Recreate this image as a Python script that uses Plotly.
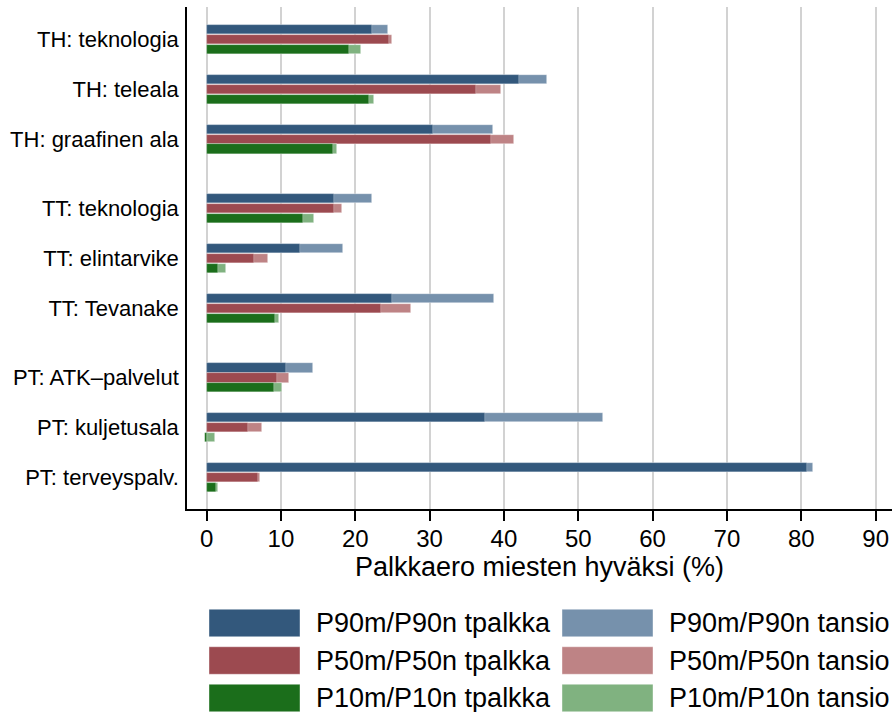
import plotly.graph_objects as go

# ---------------- data ----------------
categories = ["TH: teknologia", "TH: teleala", "TH: graafinen ala",
              "TT: teknologia", "TT: elintarvike", "TT: Tevanake",
              "PT: ATK–palvelut", "PT: kuljetusala", "PT: terveyspalv."]
groups = [0, 0, 0, 1, 1, 1, 2, 2, 2]

p90_tpalkka = [22.3, 42.0, 30.5, 17.2, 12.6, 24.9, 10.7, 37.5, 80.8]
p90_tansio = [24.4, 45.8, 38.5, 22.2, 18.4, 38.7, 14.3, 53.3, 81.6]
p50_tpalkka = [24.6, 36.2, 38.2, 17.2, 6.4, 23.4, 9.5, 5.6, 6.9]
p50_tansio = [24.9, 39.6, 41.3, 18.2, 8.2, 27.5, 11.1, 7.4, 7.2]
p10_tpalkka = [19.1, 21.8, 17.0, 13.0, 1.5, 9.2, 9.1, -0.2, 1.3]
p10_tansio = [20.8, 22.5, 17.5, 14.4, 2.6, 9.8, 10.1, 1.1, 1.5]

x_ticks = [0, 10, 20, 30, 40, 50, 60, 70, 80, 90]
x_title = "Palkkaero miesten hyväksi (%)"

legend_names = [["P90m/P90n tpalkka", "P90m/P90n tansio"],
                ["P50m/P50n tpalkka", "P50m/P50n tansio"],
                ["P10m/P10n tpalkka", "P10m/P10n tansio"]]

# ---------------- style ----------------
dark = ["#33587C", "#9C4A50", "#1B6E1B"]
light = ["#7691AC", "#BE8385", "#80B280"]
FONT = "Liberation Sans, Arial, sans-serif"

W, H = 892, 712
L, R, T, B = 187, 0, 7, 203
GAP = 0.39
offsets = [-0.2, 0.0, 0.2]
BW = 0.19

pos = [g * GAP + i for i, g in enumerate(groups)]

series = [(p90_tpalkka, p90_tansio), (p50_tpalkka, p50_tansio), (p10_tpalkka, p10_tansio)]

fig = go.Figure()
for k, (tp, ta) in enumerate(series):
    ys = [p + offsets[k] for p in pos]
    fig.add_trace(go.Bar(x=ta, y=ys, orientation="h", width=BW,
                         marker=dict(color=light[k], line=dict(width=0.6, color="rgba(255,255,255,0.6)")),
                         name=legend_names[k][1], showlegend=False))
    fig.add_trace(go.Bar(x=tp, y=ys, orientation="h", width=BW,
                         marker=dict(color=dark[k], line=dict(width=0.6, color="rgba(255,255,255,0.4)")),
                         name=legend_names[k][0], showlegend=False))

# ---------------- custom legend ----------------
pw = W - L - R
ph = H - T - B


def xp(px):
    return (px - L) / pw


def yp(py):
    return (H - B - py) / ph


sw_x = [209, 562]
tx_x = [314, 667]
row_y = [623, 660.5, 698]
sw_w, sw_h = 91, 27.5
shapes = []
annotations = []
for r in range(3):
    for c in range(2):
        col = dark[r] if c == 0 else light[r]
        shapes.append(dict(type="rect", xref="paper", yref="paper",
                           x0=xp(sw_x[c]), x1=xp(sw_x[c] + sw_w),
                           y0=yp(row_y[r] + sw_h / 2), y1=yp(row_y[r] - sw_h / 2),
                           fillcolor=col, line=dict(width=0.8, color="rgba(255,255,255,0.5)"), layer="above"))
        annotations.append(dict(xref="paper", yref="paper", x=xp(tx_x[c]), y=yp(row_y[r]),
                                text=legend_names[r][c], showarrow=False,
                                xanchor="left", yanchor="middle",
                                font=dict(family=FONT, size=27, color="black")))

fig.update_layout(
    width=W, height=H,
    margin=dict(l=L, r=R, t=T, b=B, pad=0),
    paper_bgcolor="white", plot_bgcolor="white",
    barmode="overlay", bargap=0,
    showlegend=False,
    font=dict(family=FONT, color="black"),
    shapes=shapes, annotations=annotations,
    xaxis=dict(range=[-2.63, 92.2], tickvals=x_ticks, ticktext=[str(v) for v in x_ticks],
               showgrid=True, gridcolor="#D2D2D2", gridwidth=1.5,
               showline=True, linecolor="black", linewidth=1.5,
               ticks="outside", ticklen=10, tickwidth=1.5, tickcolor="black",
               zeroline=False, tickfont=dict(size=24, family=FONT), automargin=False,
               ticklabelstandoff=-3,
               title=dict(text=x_title, font=dict(size=27, family=FONT), standoff=0)),
    yaxis=dict(range=[pos[-1] + 0.63, -0.65], tickvals=pos, ticktext=categories,
               showgrid=False, showline=True, linecolor="black", linewidth=1.5,
               ticks="", zeroline=False, ticklabelstandoff=2, automargin=False,
               tickfont=dict(size=22, family=FONT)),
)

fig.write_html("out.html", config={"displayModeBar": False},
               post_script="document.body.style.margin='0';document.body.style.overflow='hidden';")
